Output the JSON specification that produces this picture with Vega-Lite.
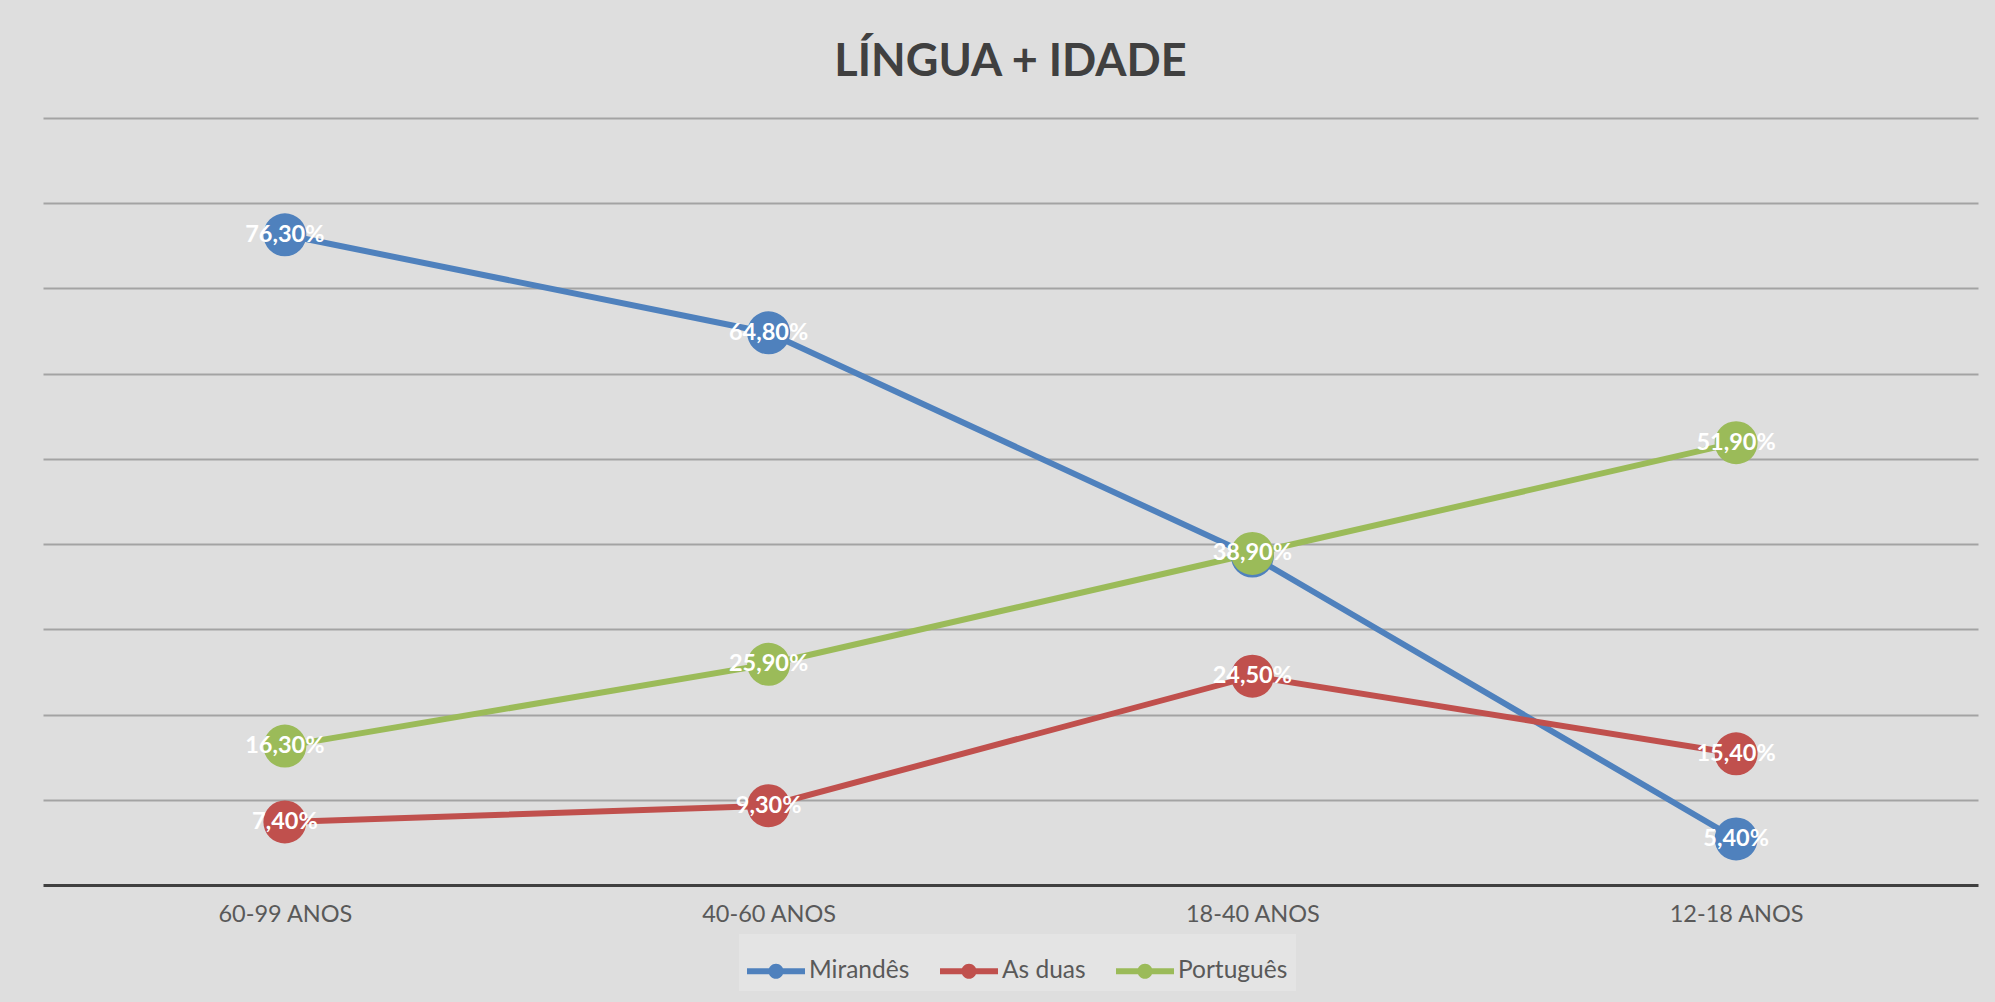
{
  "$schema": "https://vega.github.io/schema/vega-lite/v6.json",
  "width": 1935,
  "height": 767,
  "autosize": {"type": "none"},
  "padding": {"left": 43, "top": 118, "right": 17, "bottom": 117},
  "background": "#dedede",
  "title": {
    "text": "LÍNGUA + IDADE",
    "anchor": "middle",
    "fontSize": 45,
    "fontWeight": "bold",
    "font": "Lato",
    "color": "#404040",
    "offset": 33
  },
  "data": {
    "values": [
      {"idade": "60-99 ANOS", "serie": "Mirandês", "valor": 0.763},
      {"idade": "40-60 ANOS", "serie": "Mirandês", "valor": 0.648},
      {"idade": "18-40 ANOS", "serie": "Mirandês", "valor": 0.386},
      {"idade": "12-18 ANOS", "serie": "Mirandês", "valor": 0.054},
      {"idade": "60-99 ANOS", "serie": "As duas", "valor": 0.074},
      {"idade": "40-60 ANOS", "serie": "As duas", "valor": 0.093},
      {"idade": "18-40 ANOS", "serie": "As duas", "valor": 0.245},
      {"idade": "12-18 ANOS", "serie": "As duas", "valor": 0.154},
      {"idade": "60-99 ANOS", "serie": "Português", "valor": 0.163},
      {"idade": "40-60 ANOS", "serie": "Português", "valor": 0.259},
      {"idade": "18-40 ANOS", "serie": "Português", "valor": 0.389},
      {"idade": "12-18 ANOS", "serie": "Português", "valor": 0.519}
    ]
  },
  "encoding": {
    "x": {
      "field": "idade",
      "type": "nominal",
      "sort": ["60-99 ANOS", "40-60 ANOS", "18-40 ANOS", "12-18 ANOS"],
      "scale": {"type": "point", "padding": 0.5},
      "axis": {
        "title": null,
        "labelAngle": 0,
        "labelFont": "Lato",
        "labelFontSize": 23.5,
        "labelColor": "#595959",
        "labelPadding": 17,
        "ticks": false,
        "tickSize": 0,
        "domainColor": "#404040",
        "domainWidth": 3,
        "grid": false
      }
    },
    "y": {
      "field": "valor",
      "type": "quantitative",
      "scale": {"domain": [0, 0.9], "nice": false},
      "axis": {
        "title": null,
        "labels": false,
        "ticks": false,
        "domain": false,
        "grid": true,
        "values": [0.1, 0.2, 0.3, 0.4, 0.5, 0.6, 0.7, 0.8, 0.9],
        "gridColor": "#a3a3a3",
        "gridWidth": 2
      }
    },
    "color": {
      "field": "serie",
      "type": "nominal",
      "scale": {
        "domain": ["Mirandês", "As duas", "Português"],
        "range": ["#4F81BD", "#C0504D", "#9BBB59"]
      }
    }
  },
  "layer": [
    {
      "mark": {"type": "line", "strokeWidth": 6},
      "encoding": {
        "color": {
          "field": "serie",
          "type": "nominal",
          "legend": null
        },
        "order": {"field": "idade"}
      }
    },
    {
      "mark": {"type": "point", "filled": true, "size": 1850, "opacity": 1, "shape": "circle"},
      "encoding": {
        "color": {
          "field": "serie",
          "type": "nominal",
          "legend": {
            "title": null,
            "orient": "none",
            "legendX": 696,
            "legendY": 816,
            "direction": "horizontal",
            "symbolType": "M-1,-0.1L1,-0.1L1,0.1L-1,0.1Z M0.26,0A0.26,0.26 0 1,1 -0.26,0A0.26,0.26 0 1,1 0.26,0Z",
            "symbolSize": 3364,
            "symbolStrokeWidth": 0,
            "symbolOpacity": 1,
            "labelFont": "Lato",
            "labelFontSize": 24.5,
            "labelColor": "#595959",
            "labelOffset": 4,
            "columnPadding": 30,
            "padding": 8,
            "fillColor": "#e4e4e4"
          }
        }
      }
    },
    {
      "transform": [
        {"filter": "!(datum.serie == 'Mirandês' && datum.idade == '18-40 ANOS')"}
      ],
      "mark": {
        "type": "text",
        "font": "Lato",
        "fontWeight": "bold",
        "fontSize": 23.5,
        "align": "center",
        "baseline": "middle"
      },
      "encoding": {
        "color": {"value": "white"},
        "text": {"field": "valor", "type": "quantitative", "format": ".2%"}
      }
    }
  ],
  "resolve": {"legend": {"color": "independent"}},
  "config": {
    "view": {"stroke": null},
    "locale": {
      "number": {
        "decimal": ",",
        "thousands": ".",
        "grouping": [3],
        "currency": ["", " €"]
      }
    }
  }
}
